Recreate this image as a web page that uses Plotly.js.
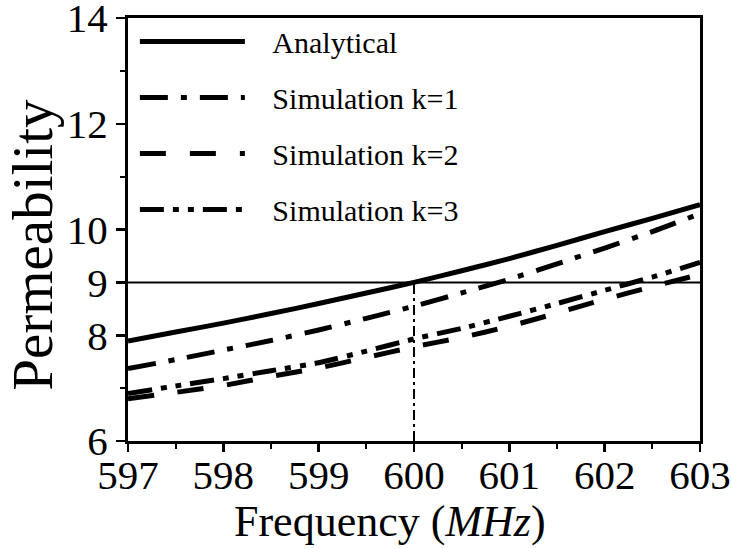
<!DOCTYPE html>
<html>
<head>
<meta charset="utf-8">
<script src="https://cdn.plot.ly/plotly-3.0.1.min.js"></script>
<style>html,body{margin:0;padding:0;background:#fff;}#chart{width:731px;height:549px;}</style>
</head>
<body>
<div id="chart"></div>
<script>
// Frequency (MHz)
const freq = [597, 597.5, 598, 598.5, 599, 599.5, 600, 600.5, 601, 601.5, 602, 602.5, 603];
// Permeability values
const analytical = [7.89, 8.06, 8.23, 8.41, 8.60, 8.80, 9.00, 9.22, 9.45, 9.70, 9.96, 10.21, 10.47];
const simK1      = [7.37, 7.54, 7.72, 7.90, 8.10, 8.32, 8.55, 8.80, 9.06, 9.35, 9.65, 9.96, 10.30];
const simK2      = [6.80, 6.92, 7.05, 7.22, 7.38, 7.58, 7.78, 7.96, 8.17, 8.42, 8.68, 8.92, 9.15];
const simK3      = [6.90, 7.04, 7.18, 7.33, 7.48, 7.70, 7.93, 8.13, 8.36, 8.60, 8.85, 9.10, 9.38];
const seriesNames = ['Analytical', 'Simulation k=1', 'Simulation k=2', 'Simulation k=3'];
// Reference lines
const refMu = 9;
const refFreq = 600;
const yTickVals = [6, 8, 9, 10, 12, 14];
const yTickText = ['6', '8', '9', '10', '12', '14'];
const yMinorVals = [7, 11, 13];
const xTickVals = [597, 598, 599, 600, 601, 602, 603];
const xTitle = 'Frequency (<i>MHz</i>)';
const yTitle = 'Permeability';

const serif = '"Times New Roman", "Liberation Serif", "DejaVu Serif", serif';
const dashes = ['solid', '28px,13px,6px,13px', '26px,24px', '24px,9px,6px,9px,6px,9px'];
const ys = [analytical, simK1, simK2, simK3];
const pad = '\u00A0\u00A0\u00A0';

const traces = ys.map((y, i) => ({
  x: freq, y: y, type: 'scatter', mode: 'lines', name: pad + seriesNames[i],
  legendgroup: 'g' + i,
  line: {color: '#000', width: 5, dash: dashes[i], shape: 'spline', smoothing: 0.6},
  hoverinfo: 'skip'
}));
traces.push({
  x: [freq[0], freq[freq.length - 1]], y: [refMu, refMu], type: 'scatter', mode: 'lines',
  showlegend: false, line: {color: '#000', width: 2}, hoverinfo: 'skip'
});
traces.push({
  x: [refFreq, refFreq], y: [6, refMu], type: 'scatter', mode: 'lines',
  showlegend: false, line: {color: '#000', width: 2, dash: '10px,4px,3px,4px'}, hoverinfo: 'skip'
});

const layout = {
  width: 731, height: 549,
  margin: {l: 128, r: 31, t: 18, b: 108},
  paper_bgcolor: '#fff', plot_bgcolor: '#fff',
  font: {family: serif, color: '#000', size: 30},
  showlegend: true,
  legend: {
    x: 0.012, y: 1.006, xanchor: 'left', yanchor: 'top',
    bgcolor: 'rgba(0,0,0,0)', borderwidth: 0,
    font: {family: serif, size: 30, color: '#000'},
    itemwidth: 105, tracegroupgap: 14
  },
  xaxis: {
    range: [597, 603], tickvals: xTickVals, ticks: 'outside', ticklen: 8, tickwidth: 2.5,
    tickcolor: '#000', showline: true, linewidth: 3, linecolor: '#000', mirror: true,
    showgrid: false, zeroline: false, ticklabeloverflow: 'allow', ticklabelstandoff: -12,
    tickfont: {family: serif, size: 41},
    minor: {dtick: 0.5, tick0: 597, ticks: 'outside', ticklen: 5, tickwidth: 2, tickcolor: '#000', showgrid: false},
    automargin: false
  },
  yaxis: {
    range: [6, 14], tickvals: yTickVals, ticktext: yTickText, ticks: 'outside', ticklen: 9, tickwidth: 2.5,
    tickcolor: '#000', showline: true, linewidth: 3, linecolor: '#000', mirror: true,
    showgrid: false, zeroline: false, ticklabeloverflow: 'allow',
    tickfont: {family: serif, size: 41},
    minor: {tickvals: yMinorVals, ticks: 'outside', ticklen: 5, tickwidth: 2, tickcolor: '#000', showgrid: false},
    automargin: false
  },
  annotations: [
    {text: xTitle, xref: 'paper', yref: 'paper', x: 0.458, y: -0.19, xanchor: 'center', yanchor: 'middle',
     showarrow: false, font: {family: serif, size: 44, color: '#000'}},
    {text: yTitle, xref: 'paper', yref: 'paper', x: -0.166, y: 0.464, xanchor: 'center', yanchor: 'middle',
     textangle: -90, showarrow: false, font: {family: serif, size: 57, color: '#000'}}
  ]
};

Plotly.newPlot('chart', traces, layout, {displayModeBar: false, staticPlot: true});
</script>
</body>
</html>
